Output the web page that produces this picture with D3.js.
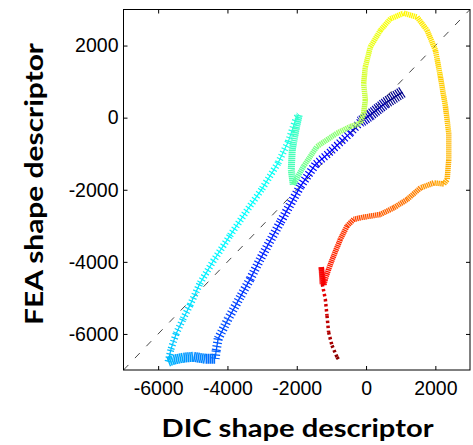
<!DOCTYPE html>
<html>
<head>
<meta charset="utf-8">
<script src="https://cdn.jsdelivr.net/npm/d3@7"></script>
<style>
  body { margin: 0; background: #fff; }
  .tickText { font-family: "Liberation Sans", Arial, sans-serif; font-size: 19.5px; fill: #000; }
  .axisTitle { font-family: Lato, "Open Sans", sans-serif; font-weight: bold; font-size: 24px; fill: #000; }
</style>
</head>
<body>
<div id="chart"></div>
<script>
// axis limits and ticks (DIC on x, FEA on y)
const dicLimits = [-7000, 3000];
const feaLimits = [-7000, 3000];
const dicTicks = [-6000, -4000, -2000, 0, 2000];
const feaTicks = [-6000, -4000, -2000, 0, 2000];
const identityLine = [-7000, 3000];

// trajectory: [DIC, FEA, time fraction (from colour)]
const runStart = [[1049, 707, 0.00], [558, 403, 0.025], [124, 75, 0.05], [-165, -119, 0.07]];
const runDescent = [
    [-454, -422, 0.105], [-1032, -947, 0.12], [-1465, -1306, 0.13], [-1899, -1913, 0.14],
    [-2477, -2907, 0.15], [-3055, -3928, 0.165], [-3344, -4480, 0.175], [-3633, -4977, 0.185],
    [-3980, -5584, 0.195], [-4269, -6136, 0.205], [-4326, -6467, 0.215], [-4355, -6688, 0.225]
];
const runBase = [[-4644, -6688, 0.245], [-4991, -6633, 0.265], [-5280, -6660, 0.28], [-5569, -6716, 0.295], [-5714, -6771, 0.305]];
const runRise = [
    [-5627, -6411, 0.315], [-5482, -5997, 0.325], [-5280, -5583, 0.335], [-5078, -5197, 0.345],
    [-4789, -4590, 0.355], [-4413, -3983, 0.365], [-3922, -3266, 0.37], [-3459, -2603, 0.375],
    [-2997, -1968, 0.38], [-2535, -1251, 0.39], [-2245, -671, 0.40], [-2014, -8, 0.41], [-1928, 75, 0.42]
];
const runDrop = [[-2014, -287, 0.43], [-2129, -891, 0.44], [-2158, -1443, 0.45], [-2101, -1857, 0.46]];
const runLoop = [
    [-1803, -1352, 0.48], [-1416, -800, 0.50], [-838, -431, 0.515], [-454, -248, 0.53],
    [-165, -155, 0.545], [-69, 121, 0.555], [-20, 489, 0.565], [-69, 949, 0.575], [-20, 1408, 0.59],
    [124, 1960, 0.60], [413, 2421, 0.61], [702, 2743, 0.62], [1087, 2898, 0.63], [1474, 2788, 0.64],
    [1763, 2421, 0.65], [2003, 1869, 0.66], [2147, 1132, 0.67], [2292, 304, 0.68], [2387, -431, 0.69],
    [2387, -1168, 0.70], [2341, -1720, 0.705], [2243, -1838, 0.71], [1954, -1811, 0.72],
    [1569, -1949, 0.74], [1185, -2271, 0.76], [798, -2501, 0.77], [413, -2685, 0.785],
    [-165, -2777, 0.80], [-358, -2823, 0.81], [-549, -3008, 0.82], [-743, -3376, 0.83],
    [-936, -3836, 0.84], [-1081, -4203, 0.85], [-1176, -4479, 0.86], [-1220, -4645, 0.87],
    [-1292, -4148, 0.88], [-1263, -4617, 0.89]
];
const runTail = [[-1176, -5031, 0.91], [-1127, -5493, 0.93], [-1081, -5951, 0.95], [-983, -6320, 0.97], [-838, -6641, 0.99], [-800, -6700, 1.0]];

const runs = [
    {name: 'start', pts: runStart},
    {name: 'descent', pts: runDescent},
    {name: 'base', pts: runBase},
    {name: 'rise', pts: runRise},
    {name: 'drop', pts: runDrop},
    {name: 'loop', pts: runLoop},
    {name: 'tail', pts: runTail}
];

// how the marker trail looks in each run
const runLook = {
    start:   {w: 12, dash: '1.2,1.1', core: 1.5},
    descent: {w: 9, dash: '1.2,2.3', core: 1.3},
    base:    {w: 10, dash: '1.6,0.4', core: 0},
    rise:    {w: 7, dash: '1.2,2.4', core: 1.2},
    drop:    {w: 7, dash: '1.4,0.6', core: 0},
    loop:    {w: 5.5, dash: '1.4,0.6', core: 0},
    tail:    {w: 3.5, dash: '2.5,2.5', core: 0}
};

const width = 473, height = 445;
const margin = {top: 9.5, right: 3, bottom: 75, left: 123.5};
const innerW = width - margin.left - margin.right;
const innerH = height - margin.top - margin.bottom;

const jet = d3.scaleLinear()
    .domain([0, 0.125, 0.375, 0.625, 0.875, 1])
    .range(['#000080', '#0000ff', '#00ffff', '#ffff00', '#ff0000', '#800000']);

const svg = d3.select('#chart').append('svg')
    .attr('width', width)
    .attr('height', height);

const g = svg.append('g').attr('transform', `translate(${margin.left},${margin.top})`);

const x = d3.scaleLinear().domain(dicLimits).range([0, innerW]);
const y = d3.scaleLinear().domain(feaLimits).range([innerH, 0]);

svg.append('defs').append('clipPath').attr('id', 'plotClip')
    .append('rect').attr('width', innerW).attr('height', innerH);

const plot = g.append('g').attr('clip-path', 'url(#plotClip)');

// dashed 1:1 line
plot.append('line')
    .attr('x1', x(identityLine[0])).attr('y1', y(identityLine[0]))
    .attr('x2', x(identityLine[1])).attr('y2', y(identityLine[1]))
    .attr('stroke', '#333')
    .attr('stroke-width', 0.9)
    .attr('stroke-dasharray', '7,9.5');

// trail segments, drawn in time order
const line = d3.line().x(d => x(d[0])).y(d => y(d[1]));
let prev = null;
runs.forEach(run => {
    const look = runLook[run.name];
    const pts = prev ? [prev].concat(run.pts) : run.pts;
    for (let i = 1; i < pts.length; i++) {
        const seg = [pts[i - 1], pts[i]];
        const c = jet((seg[0][2] + seg[1][2]) / 2);
        plot.append('path')
            .attr('d', line(seg))
            .attr('fill', 'none')
            .attr('stroke', c)
            .attr('stroke-width', look.w)
            .attr('stroke-dasharray', look.dash);
        if (look.core > 0) {
            plot.append('path')
                .attr('d', line(seg))
                .attr('fill', 'none')
                .attr('stroke', c)
                .attr('stroke-width', look.core);
        }
    }
    prev = run.pts[run.pts.length - 1];
});

// axes: ticks inside on all four sides, plain hyphen for minus
const fmt = d => String(d);

g.append('g')
    .attr('transform', `translate(0,${innerH})`)
    .call(d3.axisBottom(x).tickValues(dicTicks).tickSize(-4).tickPadding(11).tickFormat(fmt))
    .call(a => a.select('.domain').remove())
    .selectAll('text').attr('class', 'tickText');

g.append('g')
    .call(d3.axisTop(x).tickValues(dicTicks).tickSize(-4).tickFormat(''))
    .call(a => a.select('.domain').remove());

g.append('g')
    .call(d3.axisLeft(y).tickValues(feaTicks).tickSize(-4).tickPadding(5).tickFormat(fmt))
    .call(a => a.select('.domain').remove())
    .selectAll('text').attr('class', 'tickText');

g.append('g')
    .attr('transform', `translate(${innerW},0)`)
    .call(d3.axisRight(y).tickValues(feaTicks).tickSize(-4).tickFormat(''))
    .call(a => a.select('.domain').remove());

g.selectAll('.tick line').attr('stroke', '#000');

g.append('rect')
    .attr('width', innerW).attr('height', innerH)
    .attr('fill', 'none').attr('stroke', '#000').attr('stroke-width', 1);

// titles
svg.append('text')
    .attr('class', 'axisTitle')
    .attr('x', 297.5).attr('y', 437)
    .attr('text-anchor', 'middle')
    .attr('textLength', 272).attr('lengthAdjust', 'spacingAndGlyphs')
    .text('DIC shape descriptor');

svg.append('text')
    .attr('class', 'axisTitle')
    .attr('transform', 'translate(43,184) rotate(-90)')
    .attr('text-anchor', 'middle')
    .attr('textLength', 282).attr('lengthAdjust', 'spacingAndGlyphs')
    .text('FEA shape descriptor');
</script>
</body>
</html>
